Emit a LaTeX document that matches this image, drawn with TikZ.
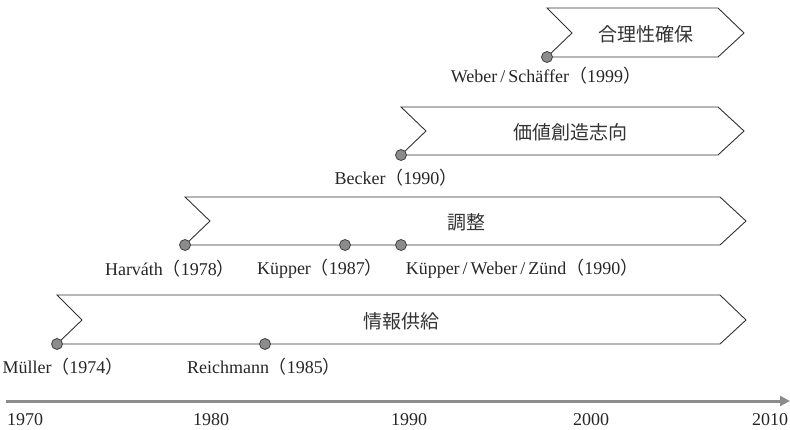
\documentclass[tikz,border=0pt]{standalone}
\usepackage{fontspec}
\setmainfont{Liberation Serif}
\newfontfamily\jp{Noto Sans CJK JP}
\usetikzlibrary{arrows.meta}
\tikzstyle{band}=[draw=black!80,line width=0.9pt,line join=miter]
\tikzstyle{yeardot}=[shape=circle,minimum size=11pt,inner sep=0,draw=black!75,line width=0.8pt,fill=black!45]
\tikzstyle{who}=[text=black!85,font=\fontsize{18}{20}\selectfont,inner sep=0]
\tikzstyle{role}=[text=black!80,font=\jp\fontsize{19}{21}\selectfont,inner sep=0]
\tikzstyle{axis}=[draw=black!45,line width=3pt,-{Triangle[length=10pt,width=10pt]}]
\newcommand{\yr}[1]{{\jp （}#1{\jp ）}}
\newcommand{\slsh}{\,/\,}

\begin{document}
\begin{tikzpicture}[x=1pt,y=-1pt]
\useasboundingbox (0,0) rectangle (790,430);

% bands
\draw[band] (57,295)--(720,295)--(746,320)--(720,344)--(57,344)--(82,320)--cycle;
\draw[band] (185,197)--(720,197)--(746,221)--(720,245)--(185,245)--(210,221)--cycle;
\draw[band] (401,107)--(718,107)--(744,131)--(718,155)--(401,155)--(426,131)--cycle;
\draw[band] (547,8)--(718,8)--(744,33)--(718,57)--(547,57)--(572,33)--cycle;

\node[role] (info) at (401,321) {情報供給};
\node[role] (coord) at (466,222) {調整};
\node[role] (value) at (570,132) {価値創造志向};
\node[role] (ratio) at (646,34) {合理性確保};

% dots and authors
\node[yeardot] (mueller) at (57,344) {};
\node[yeardot] (reichmann) at (265,344) {};
\node[yeardot] (harvath) at (185,245) {};
\node[yeardot] (kuepper) at (345,245) {};
\node[yeardot] (kwz) at (401,245) {};
\node[yeardot] (becker) at (401,155) {};
\node[yeardot] (ws) at (547,57) {};

\node[who] (muellerT) at (63,367) {Müller\yr{1974}};
\node[who] (reichmannT) at (264,367) {Reichmann\yr{1985}};
\node[who] (harvathT) at (170,269) {Harváth\yr{1978}};
\node[who] (kuepperT) at (320,269) {Küpper\yr{1987}};
\node[who] (kwzT) at (522,269) {Küpper\slsh Weber\slsh Zünd\yr{1990}};
\node[who] (beckerT) at (396,178) {Becker\yr{1990}};
\node[who] (wsT) at (546,76) {Weber\slsh Schäffer\yr{1999}};

% time axis
\coordinate (t0) at (6,401);
\coordinate (t1) at (790,401);
\draw[axis] (t0)--(t1);
\foreach \x/\y in {25/1970,211/1980,409/1990,591/2000,770/2010}{
	\node[who] (y\y) at (\x,420) {\y};
}
\end{tikzpicture}
\end{document}
